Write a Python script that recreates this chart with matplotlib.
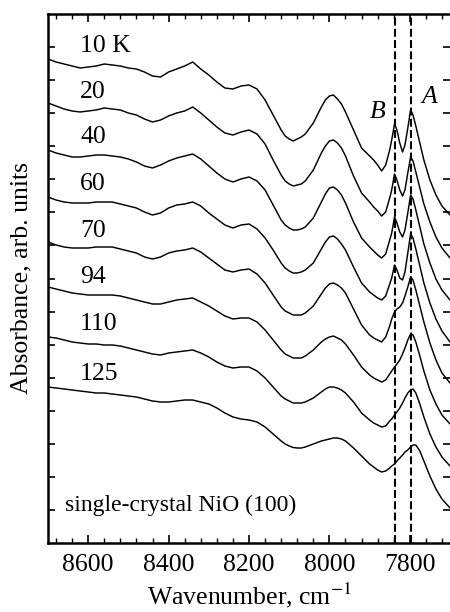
import matplotlib
matplotlib.use("Agg")
import matplotlib.pyplot as plt
import numpy as np
from matplotlib.ticker import MultipleLocator, FuncFormatter

plt.rcParams['font.family'] = ['Liberation Serif', 'DejaVu Serif']
plt.rcParams['font.size'] = 18.5
plt.rcParams['mathtext.fontset'] = 'stix'

# ---------------- data ----------------
wavenumber = [8700, 8680, 8660, 8640, 8620, 8600, 8580, 8560, 8540, 8520, 8500, 8480, 8460, 8440,
              8420, 8400, 8380, 8360, 8340,
              8320, 8300, 8280, 8260, 8240, 8220, 8200, 8180, 8160, 8140,
              8120, 8110, 8100, 8090, 8080, 8070, 8060, 8040, 8020, 8010, 8000,
              7990, 7980, 7970, 7960, 7940, 7920, 7900,
              7890, 7880, 7870, 7860, 7850, 7845, 7838, 7832, 7825, 7818, 7812, 7805, 7798, 7792,
              7785, 7775, 7765, 7750, 7735, 7720, 7700]

temperature_labels = ['10 K', '20', '40', '60', '70', '94', '110', '125']

abs_10 = [4.84, 4.81, 4.79, 4.77, 4.75, 4.76, 4.77, 4.79, 4.78, 4.77, 4.75, 4.74, 4.71, 4.67, 4.66, 4.71, 4.74, 4.77, 4.81,
          4.74, 4.68, 4.61, 4.55, 4.54, 4.57, 4.58, 4.54, 4.43, 4.28,
          4.13, 4.07, 4.04, 4.02, 4.04, 4.06, 4.09, 4.20, 4.36, 4.43, 4.47,
          4.48, 4.44, 4.39, 4.31, 4.13, 3.95, 3.87,
          3.83, 3.78, 3.72, 3.78, 3.93, 4.03, 4.19, 4.13, 4.00, 3.91, 3.98, 4.15, 4.33, 4.28, 4.17, 4.00, 3.83, 3.63, 3.48, 3.37, 3.28]

abs_20 = [4.40, 4.37, 4.34, 4.32, 4.31, 4.32, 4.33, 4.35, 4.34, 4.33, 4.30, 4.28, 4.24, 4.21, 4.23, 4.27, 4.30, 4.32, 4.36,
          4.30, 4.23, 4.16, 4.10, 4.08, 4.11, 4.13, 4.09, 3.99, 3.83,
          3.68, 3.62, 3.59, 3.57, 3.58, 3.59, 3.62, 3.73, 3.90, 3.97, 4.02,
          4.03, 4.00, 3.95, 3.87, 3.67, 3.50, 3.41,
          3.36, 3.32, 3.27, 3.31, 3.45, 3.53, 3.69, 3.63, 3.53, 3.47, 3.53, 3.70, 3.86, 3.82, 3.71, 3.55, 3.39, 3.21, 3.06, 2.95, 2.85]

abs_40 = [3.93, 3.90, 3.88, 3.86, 3.86, 3.87, 3.88, 3.88, 3.87, 3.86, 3.84, 3.81, 3.77, 3.75, 3.78, 3.82, 3.85, 3.87, 3.89,
          3.84, 3.77, 3.70, 3.64, 3.61, 3.64, 3.66, 3.62, 3.53, 3.38,
          3.23, 3.18, 3.15, 3.13, 3.13, 3.14, 3.16, 3.25, 3.41, 3.49, 3.55,
          3.56, 3.53, 3.48, 3.40, 3.21, 3.05, 2.96,
          2.92, 2.88, 2.85, 2.89, 3.03, 3.10, 3.26, 3.20, 3.11, 3.06, 3.13, 3.30, 3.48, 3.44, 3.33, 3.16, 2.99, 2.80, 2.64, 2.53, 2.43]

abs_60 = [3.46, 3.43, 3.41, 3.40, 3.40, 3.40, 3.41, 3.41, 3.41, 3.39, 3.37, 3.35, 3.31, 3.28, 3.30, 3.35, 3.38, 3.39, 3.41,
          3.37, 3.30, 3.24, 3.18, 3.15, 3.18, 3.19, 3.14, 3.05, 2.93,
          2.80, 2.75, 2.72, 2.70, 2.70, 2.71, 2.73, 2.80, 2.94, 3.01, 3.06,
          3.07, 3.04, 2.99, 2.93, 2.76, 2.60, 2.51,
          2.48, 2.45, 2.43, 2.47, 2.59, 2.65, 2.78, 2.73, 2.65, 2.63, 2.71, 2.90, 3.09, 3.05, 2.94, 2.77, 2.60, 2.40, 2.24, 2.12, 2.01]

abs_70 = [3.01, 2.98, 2.96, 2.95, 2.95, 2.95, 2.96, 2.96, 2.96, 2.94, 2.92, 2.90, 2.86, 2.84, 2.86, 2.90, 2.92, 2.93, 2.95,
          2.91, 2.85, 2.79, 2.73, 2.71, 2.73, 2.74, 2.69, 2.60, 2.48,
          2.36, 2.32, 2.30, 2.28, 2.28, 2.28, 2.30, 2.37, 2.49, 2.55, 2.59,
          2.60, 2.58, 2.55, 2.50, 2.34, 2.18, 2.08,
          2.05, 2.03, 2.01, 2.06, 2.17, 2.24, 2.31, 2.34, 2.36, 2.40, 2.47, 2.56, 2.66, 2.63, 2.53, 2.37, 2.21, 2.00, 1.83, 1.70, 1.60]

abs_94 = [2.56, 2.54, 2.52, 2.50, 2.49, 2.48, 2.48, 2.48, 2.48, 2.47, 2.45, 2.43, 2.41, 2.39, 2.39, 2.41, 2.43, 2.44, 2.45,
          2.41, 2.37, 2.32, 2.27, 2.24, 2.25, 2.25, 2.21, 2.13, 2.03,
          1.93, 1.89, 1.87, 1.85, 1.85, 1.85, 1.87, 1.93, 2.01, 2.04, 2.06,
          2.07, 2.05, 2.03, 1.99, 1.88, 1.76, 1.68,
          1.65, 1.63, 1.61, 1.63, 1.69, 1.72, 1.76, 1.79, 1.83, 1.89, 1.95, 2.03, 2.09, 2.08, 2.01, 1.87, 1.72, 1.53, 1.39, 1.28, 1.19]

abs_110 = [2.06, 2.05, 2.03, 2.01, 2.00, 1.99, 1.99, 1.98, 1.98, 1.97, 1.95, 1.93, 1.91, 1.89, 1.88, 1.90, 1.91, 1.92, 1.93,
           1.90, 1.86, 1.81, 1.77, 1.75, 1.76, 1.76, 1.72, 1.65, 1.56,
           1.47, 1.44, 1.42, 1.40, 1.40, 1.40, 1.41, 1.45, 1.51, 1.54, 1.56,
           1.56, 1.55, 1.53, 1.50, 1.41, 1.30, 1.23,
           1.20, 1.18, 1.16, 1.17, 1.22, 1.24, 1.28, 1.31, 1.35, 1.40, 1.45, 1.50, 1.53, 1.54, 1.50, 1.39, 1.26, 1.09, 0.96, 0.86, 0.77]

abs_125 = [1.56, 1.55, 1.54, 1.53, 1.52, 1.51, 1.50, 1.50, 1.49, 1.48, 1.47, 1.46, 1.44, 1.42, 1.41, 1.41, 1.42, 1.43, 1.43,
           1.41, 1.39, 1.35, 1.30, 1.26, 1.24, 1.23, 1.21, 1.16, 1.09,
           1.02, 0.99, 0.97, 0.955, 0.95, 0.95, 0.96, 0.99, 1.02, 1.03, 1.04,
           1.05, 1.05, 1.04, 1.02, 0.95, 0.87, 0.79,
           0.76, 0.73, 0.71, 0.72, 0.75, 0.77, 0.79, 0.82, 0.85, 0.88, 0.91, 0.93, 0.96, 0.98, 0.98, 0.92, 0.82, 0.67, 0.54, 0.44, 0.35]

spectra = [abs_10, abs_20, abs_40, abs_60, abs_70, abs_94, abs_110, abs_125]

# label anchor heights (baseline, arb. units) for each curve label
label_heights = [4.91, 4.45, 4.00, 3.53, 3.06, 2.60, 2.13, 1.63]

line_A = 7798
line_B = 7838

# ---------------- figure ----------------
fig = plt.figure(figsize=(4.5, 6.12), dpi=100)
ax = fig.add_axes([48 / 450, 69 / 612, 402 / 450, 529 / 612])

for spec in spectra:
    ax.plot(wavenumber, spec, color='black', lw=1.05,
            solid_joinstyle='round', solid_capstyle='round')

for lab, h in zip(temperature_labels, label_heights):
    ax.text(8620, h, lab, fontsize=18.5, ha='left', va='baseline')

for xv in (line_A, line_B):
    ax.axvline(xv, color='black', lw=1.5, linestyle=(0, (3.8, 1.6)))

ax.text(7899, 4.25, 'B', fontsize=18.5, style='italic', ha='left', va='baseline')
ax.text(7772, 4.40, 'A', fontsize=18.5, style='italic', ha='left', va='baseline')
ax.text(8658, 0.32, 'single-crystal NiO (100)', fontsize=17, ha='left', va='baseline')

ax.set_xlim(8700, 7700)
ax.set_ylim(0, 5.29)

ax.xaxis.set_major_locator(MultipleLocator(200))
ax.xaxis.set_minor_locator(MultipleLocator(40))
ax.xaxis.set_major_formatter(FuncFormatter(lambda v, p: '%d' % round(v)))
ax.set_yticks(np.arange(1, 16) * 5.29 / 16)
ax.set_yticklabels([])

ax.tick_params(axis='x', which='major', direction='in', top=True, bottom=True,
               length=6, width=1.2, labelsize=18.5, pad=8)
ax.tick_params(axis='x', which='minor', direction='in', top=True, bottom=True,
               length=3.5, width=1.0)
ax.tick_params(axis='y', which='major', direction='in', left=True, right=True,
               length=5, width=1.2)

for s in ('left', 'bottom', 'top'):
    ax.spines[s].set_linewidth(1.8)
ax.spines['right'].set_visible(False)

ax.set_xlabel('Wavenumber, cm$^{-1}$', fontsize=18.5, labelpad=3)
ax.set_ylabel('Absorbance, arb. units', fontsize=18.5, labelpad=8)

fig.savefig('out.png', dpi=100)
